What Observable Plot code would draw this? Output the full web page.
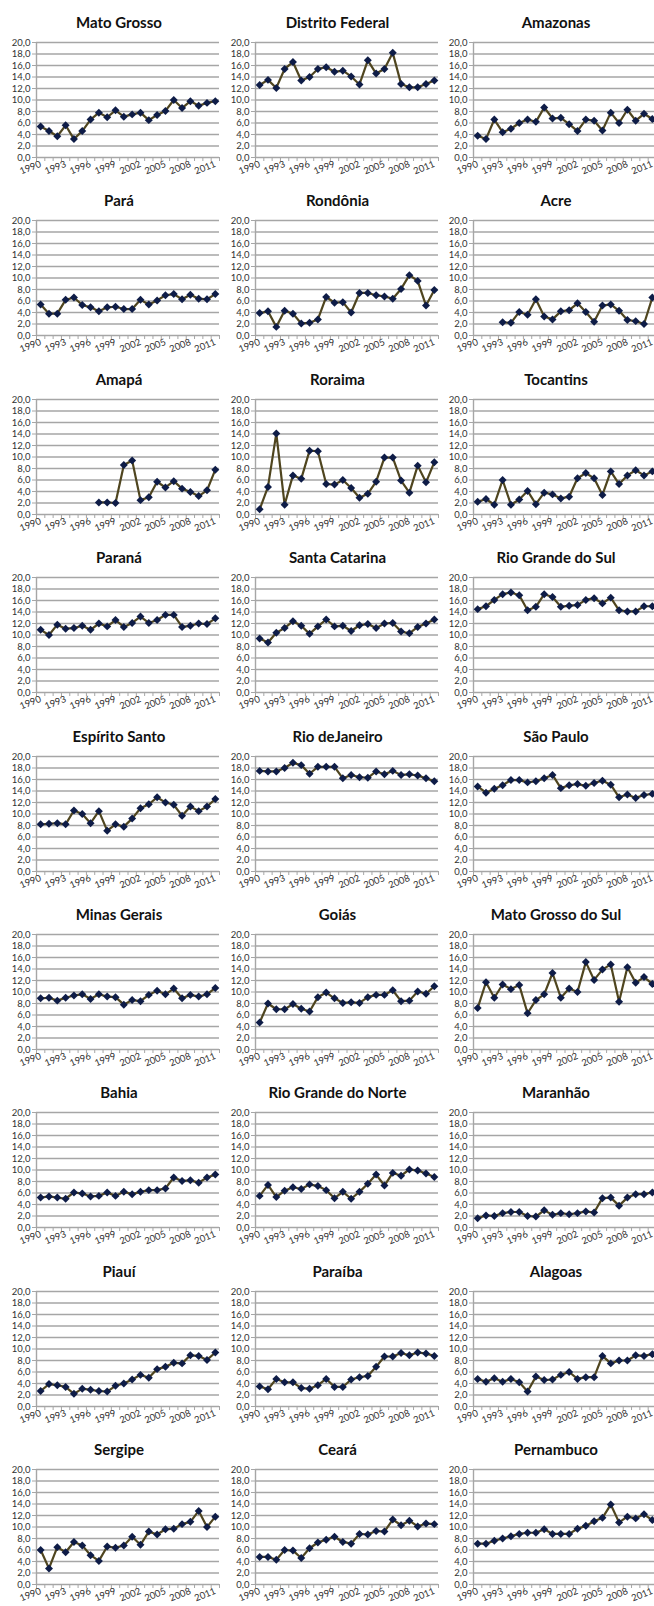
<!DOCTYPE html>
<html><head><meta charset="utf-8">
<script src="https://cdn.jsdelivr.net/npm/d3@7"></script>
<script src="https://cdn.jsdelivr.net/npm/@observablehq/plot@0.6"></script>
<style>
body{margin:0;background:#fff;}
#wrap{position:relative;width:654px;height:1606px;overflow:hidden;background:#fff;font-family:Lato,"Open Sans",sans-serif;}
.cell{position:absolute;width:222px;height:178px;}
.cell svg{position:absolute;left:0;top:0;}
.title{position:absolute;left:0;width:238px;top:13px;text-align:center;font-weight:bold;font-size:15px;color:#111;white-space:nowrap;}
</style></head><body><div id="wrap"></div>
<script>
const years = [1990,1991,1992,1993,1994,1995,1996,1997,1998,1999,2000,2001,2002,2003,2004,2005,2006,2007,2008,2009,2010,2011];
const labelYears = [1990,1993,1996,1999,2002,2005,2008,2011];
const yTicks = [0,2,4,6,8,10,12,14,16,18,20];

const states = ["Mato Grosso","Distrito Federal","Amazonas","Pará","Rondônia","Acre","Amapá","Roraima","Tocantins","Paraná","Santa Catarina","Rio Grande do Sul","Espírito Santo","Rio deJaneiro","São Paulo","Minas Gerais","Goiás","Mato Grosso do Sul","Bahia","Rio Grande do Norte","Maranhão","Piauí","Paraíba","Alagoas","Sergipe","Ceará","Pernambuco"];

const matoGrosso = [5.4,4.6,3.7,5.6,3.2,4.6,6.6,7.8,7.0,8.2,7.1,7.5,7.8,6.5,7.4,8.1,10.0,8.6,9.8,9.0,9.5,9.8];
const distritoFederal = [12.6,13.5,12.1,15.4,16.6,13.4,14.0,15.4,15.7,14.9,15.1,14.1,12.7,16.9,14.6,15.4,18.2,12.8,12.2,12.2,12.8,13.4];
const amazonas = [3.8,3.2,6.6,4.4,5.0,6.0,6.6,6.2,8.7,6.8,6.9,5.8,4.6,6.6,6.4,4.7,7.8,6.0,8.3,6.4,7.6,6.7];
const para = [5.4,3.8,3.8,6.2,6.6,5.3,4.9,4.2,4.9,5.0,4.6,4.6,6.2,5.4,6.1,7.0,7.2,6.3,7.1,6.4,6.3,7.2];
const rondonia = [3.9,4.2,1.5,4.3,3.8,2.1,2.2,2.8,6.7,5.7,5.8,4.0,7.4,7.4,7.0,6.8,6.4,8.1,10.5,9.5,5.2,7.9];
const acre = [null,null,null,2.3,2.2,4.1,3.6,6.3,3.3,2.8,4.2,4.4,5.6,4.1,2.4,5.2,5.4,4.3,2.7,2.5,2.0,6.6];
const amapa = [null,null,null,null,null,null,null,2.1,2.1,2.0,8.6,9.4,2.5,3.0,5.7,4.7,5.8,4.5,3.9,3.2,4.2,7.8];
const roraima = [0.9,4.8,14.1,1.7,6.8,6.2,11.1,11.0,5.3,5.2,6.0,4.6,2.9,3.6,5.7,9.9,9.9,5.9,3.8,8.5,5.6,9.1];
const tocantins = [2.2,2.7,1.7,6.0,1.7,2.6,4.1,1.8,3.8,3.5,2.8,3.1,6.3,7.2,6.3,3.4,7.5,5.3,6.8,7.7,6.8,7.5];
const parana = [10.9,10.0,11.8,11.1,11.2,11.6,10.9,12.0,11.5,12.6,11.4,12.1,13.2,12.1,12.6,13.5,13.5,11.4,11.6,12.0,11.9,12.9];
const santaCatarina = [9.4,8.7,10.4,11.2,12.4,11.6,10.2,11.5,12.7,11.5,11.6,10.7,11.7,11.9,11.2,12.0,12.1,10.6,10.3,11.4,12.0,12.7];
const rioGrandeDoSul = [14.5,15.0,16.1,17.1,17.4,16.9,14.3,14.9,17.1,16.6,14.9,15.1,15.2,16.1,16.4,15.5,16.5,14.3,14.1,14.1,15.0,15.0];
const espiritoSanto = [8.2,8.3,8.4,8.2,10.6,10.0,8.4,10.5,7.1,8.2,7.8,9.2,11.0,11.7,12.9,12.0,11.6,9.7,11.3,10.5,11.3,12.6];
const rioDeJaneiro = [17.5,17.4,17.4,18.0,18.9,18.5,17.0,18.2,18.2,18.2,16.2,16.8,16.4,16.3,17.4,16.9,17.5,16.8,16.9,16.7,16.2,15.7];
const saoPaulo = [14.8,13.7,14.4,15.0,15.9,15.9,15.5,15.7,16.2,16.8,14.5,15.0,15.2,14.9,15.4,15.8,15.1,12.9,13.4,12.8,13.3,13.5];
const minasGerais = [8.9,9.0,8.5,9.0,9.4,9.6,8.8,9.6,9.2,9.1,7.8,8.6,8.4,9.5,10.2,9.6,10.6,8.9,9.5,9.2,9.6,10.7];
const goias = [4.7,8.0,7.0,7.0,7.9,7.1,6.6,9.1,9.9,8.9,8.1,8.2,8.1,9.1,9.5,9.5,10.3,8.4,8.5,10.1,9.7,11.0];
const matoGrossoDoSul = [7.2,11.7,9.0,11.3,10.5,11.2,6.3,8.6,9.6,13.3,9.0,10.6,10.0,15.2,12.1,13.9,14.8,8.3,14.3,11.6,12.6,11.4];
const bahia = [5.2,5.4,5.2,5.0,6.1,5.9,5.4,5.5,6.1,5.5,6.2,5.8,6.2,6.5,6.5,6.8,8.7,8.1,8.2,7.8,8.7,9.2];
const rioGrandeDoNorte = [5.5,7.4,5.3,6.4,7.0,6.7,7.5,7.2,6.5,5.1,6.2,5.0,6.2,7.6,9.2,7.3,9.5,9.0,10.1,9.9,9.4,8.8];
const maranhao = [1.6,2.1,2.0,2.5,2.7,2.7,2.0,1.9,3.0,2.2,2.5,2.3,2.5,2.8,2.6,5.1,5.2,3.8,5.2,5.8,5.8,6.1];
const piaui = [2.7,3.9,3.7,3.4,2.2,3.1,2.9,2.7,2.6,3.6,4.0,4.7,5.5,5.0,6.5,6.9,7.6,7.5,8.9,8.8,8.1,9.4];
const paraiba = [3.5,3.0,4.8,4.2,4.2,3.2,3.1,3.7,4.8,3.4,3.4,4.7,5.1,5.3,6.9,8.7,8.7,9.3,8.9,9.4,9.2,8.8];
const alagoas = [4.8,4.3,4.9,4.3,4.8,4.2,2.6,5.2,4.6,4.7,5.5,6.0,4.8,5.1,5.1,8.8,7.5,8.0,8.0,8.9,8.8,9.1];
const sergipe = [6.0,2.8,6.5,5.6,7.4,6.8,5.1,4.1,6.6,6.4,6.8,8.3,6.9,9.2,8.7,9.6,9.7,10.5,10.9,12.8,10.0,11.8];
const ceara = [4.8,4.8,4.3,6.0,5.9,4.6,6.3,7.3,7.8,8.3,7.4,7.1,8.8,8.7,9.3,9.2,11.3,10.3,11.1,10.1,10.6,10.5];
const pernambuco = [7.1,7.1,7.6,8.0,8.4,8.8,9.0,9.0,9.6,8.8,8.8,8.8,9.7,10.2,11.0,11.6,13.9,10.8,11.8,11.5,12.2,11.2];

const series = [matoGrosso,distritoFederal,amazonas,para,rondonia,acre,amapa,roraima,tocantins,parana,santaCatarina,rioGrandeDoSul,espiritoSanto,rioDeJaneiro,saoPaulo,minasGerais,goias,matoGrossoDoSul,bahia,rioGrandeDoNorte,maranhao,piaui,paraiba,alagoas,sergipe,ceara,pernambuco];

const boundaries = years.map(y => y - 0.5).concat([years[years.length-1] + 0.5]);
const fmt = d => d.toFixed(1).replace(".", ",");
const GRID = "#a6a6a6";
const wrap = document.getElementById("wrap");

states.forEach((name, i) => {
  const col = i % 3, row = Math.floor(i / 3);
  const cell = document.createElement("div");
  cell.className = "cell";
  cell.style.left = (col * 218.5) + "px";
  cell.style.top = (row * 178.4) + "px";
  const rows = years.map((yr, k) => ({year: yr, value: series[i][k]}));
  const chart = Plot.plot({
    width: 222, height: 178,
    marginTop: 42, marginBottom: 21, marginLeft: 36, marginRight: 3,
    style: {fontFamily: "Lato, 'Open Sans', sans-serif", fontSize: "10px", background: "transparent", overflow: "visible"},
    x: {type: "linear", domain: [1989.5, 2011.5], axis: null},
    y: {domain: [0, 20], axis: null},
    marks: [
      Plot.gridY({ticks: yTicks, stroke: GRID, strokeOpacity: 1, strokeWidth: 1.6}),
      Plot.ruleX([1989.5], {stroke: GRID, strokeWidth: 1.4}),
      Plot.axisY({ticks: yTicks, tickSize: 4, tickFormat: () => "", stroke: GRID, label: null}),
      Plot.axisY({ticks: yTicks, tickSize: 0, tickPadding: 6, tickFormat: fmt, fill: "#333", fontSize: 9.5, label: null}),
      Plot.axisX({ticks: boundaries, tickSize: 4, tickFormat: () => "", stroke: GRID, label: null}),
      Plot.axisX({ticks: labelYears, tickSize: 0, tickPadding: 6, tickRotate: -22, textAnchor: "end", tickFormat: d => String(d), fill: "#333", fontSize: 9.5, label: null}),
      Plot.line(rows, {x: "year", y: "value", stroke: "#4f451f", strokeWidth: 2.2}),
      Plot.dot(rows.filter(d => d.value != null), {x: "year", y: "value", symbol: "diamond2", fill: "#0e1c47", stroke: "none", r: 3.6})
    ]
  });
  cell.appendChild(chart);
  const t = document.createElement("div");
  t.className = "title";
  t.textContent = name;
  cell.appendChild(t);
  wrap.appendChild(cell);
});
</script></body></html>
